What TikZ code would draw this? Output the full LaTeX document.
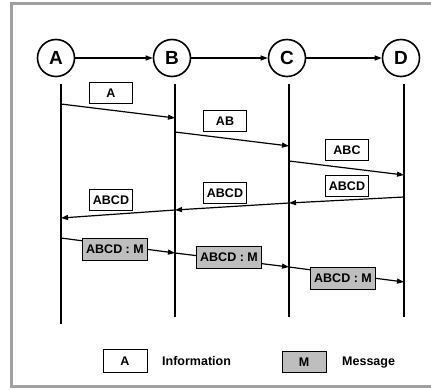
\documentclass[tikz,border=0pt]{standalone}
\usepackage{fontspec}
\setmainfont{Liberation Sans}
\usetikzlibrary{arrows.meta}
\definecolor{framec}{RGB}{160,160,160}
\definecolor{msgfill}{RGB}{190,190,190}
\begin{document}
\begin{tikzpicture}[x=1pt,y=-1pt,
  station/.style={circle,draw,line width=1.6pt,minimum size=37pt,inner sep=0pt,font=\fontsize{19}{19}\selectfont\bfseries},
  info/.style={draw,line width=0.7pt,fill=white,minimum width=43pt,minimum height=21pt,inner sep=0pt,font=\fontsize{12.5}{12.5}\selectfont\bfseries},
  msg/.style={draw,line width=0.7pt,fill=msgfill,minimum width=65pt,minimum height=22pt,inner sep=0pt,font=\fontsize{12.5}{12.5}\selectfont\bfseries},
  lifeline/.style={line width=1.8pt},
  sendarrow/.style={line width=1.2pt,-{Triangle[length=7pt,width=5pt]}},
  legtext/.style={anchor=base west,inner sep=0pt,font=\fontsize{12.5}{12.5}\selectfont\bfseries}]
\useasboundingbox (0,0) rectangle (431,389);
% frame
\draw[framec,line width=2.8pt] (431,3.5) -- (11.5,3.5) -- (11.5,386.5) -- (431,386.5);
% stations
\node[station] (A) at (56,58) {A};
\node[station] (B) at (172,58) {B};
\node[station] (C) at (287,58) {C};
\node[station] (D) at (401,58) {D};
\draw[sendarrow] (A) -- (B);
\draw[sendarrow] (B) -- (C);
\draw[sendarrow] (C) -- (D);
% lifelines
\coordinate (At) at (61,84); \coordinate (Ab) at (61,324);
\coordinate (Bt) at (175,84); \coordinate (Bb) at (175,317);
\coordinate (Ct) at (289,84); \coordinate (Cb) at (289,317);
\coordinate (Dt) at (404,84); \coordinate (Db) at (404,317);
\draw[lifeline] (At) -- (Ab);
\draw[lifeline] (Bt) -- (Bb);
\draw[lifeline] (Ct) -- (Cb);
\draw[lifeline] (Dt) -- (Db);
% message points
\coordinate (a1) at (61,104);  \coordinate (b1) at (175,118);
\coordinate (b2) at (175,132); \coordinate (c2) at (289,146);
\coordinate (c3) at (289,161); \coordinate (d3) at (404,175);
\coordinate (d4) at (404,197); \coordinate (c4) at (289,203);
\coordinate (b5) at (175,210); \coordinate (a6) at (61,218);
\coordinate (a7) at (61,238);  \coordinate (b7) at (175,253);
\coordinate (c8) at (289,267); \coordinate (d9) at (404,282);
\draw[sendarrow] (a1) -- (b1);
\draw[sendarrow] (b2) -- (c2);
\draw[sendarrow] (c3) -- (d3);
\draw[sendarrow] (d4) -- (c4);
\draw[sendarrow] (c4) -- (b5);
\draw[sendarrow] (b5) -- (a6);
\draw[sendarrow] (a7) -- (b7);
\draw[sendarrow] (b7) -- (c8);
\draw[sendarrow] (c8) -- (d9);
% labels
\node[info] (l1) at (111,93) {A};
\node[info] (l2) at (225,121) {AB};
\node[info] (l3) at (347,150) {ABC};
\node[info] (l4) at (347,186) {ABCD};
\node[info] (l5) at (225,193) {ABCD};
\node[info] (l6) at (111,200) {ABCD};
\node[msg] (g1) at (115,249) {ABCD : M};
\node[msg] (g2) at (229,257) {ABCD : M};
\node[msg] (g3) at (343,278) {ABCD : M};
% legend
\node[info,minimum width=44pt,minimum height=23pt] (legA) at (125,361) {A};
\node[legtext] (legAt) at (162,365) {Information};
\node[msg,minimum width=44pt,minimum height=21pt] (legM) at (304,362) {M};
\node[legtext] (legMt) at (342,365) {Message};
\end{tikzpicture}
\end{document}
